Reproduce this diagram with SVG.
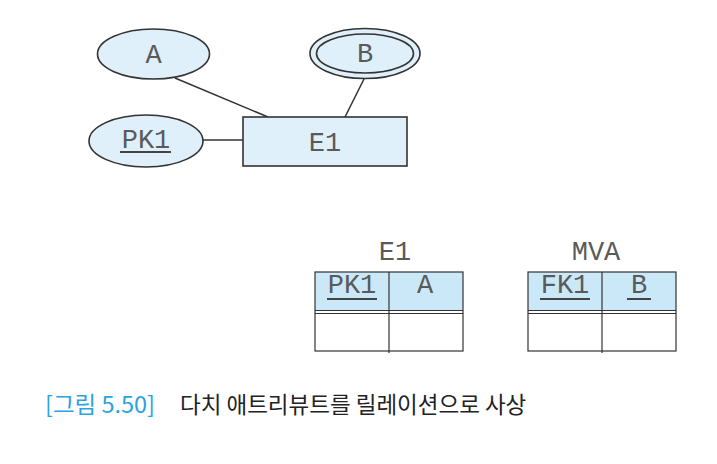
<svg xmlns="http://www.w3.org/2000/svg" width="717" height="464" viewBox="0 0 717 464">
<style>
.shape{fill:#dff0fb;stroke:#333;stroke-width:1.6}
.hdr{fill:#cbe8f8;stroke:none}
.ln{stroke:#333;stroke-width:1.5;fill:none}
.tl{stroke:#333;stroke-width:1.2;fill:none}
.t{font-family:"Liberation Mono","DejaVu Sans Mono",monospace;font-size:27px;fill:#5a5a5a;text-anchor:middle}
.ul{stroke:#444;stroke-width:2}
.cap{font-family:"Noto Sans CJK KR","Noto Sans",sans-serif;font-size:22.5px;font-weight:400}
</style>
<rect width="717" height="464" fill="#fff"/>
<g id="connectors">
<line class="ln" x1="175" y1="78" x2="268" y2="117"/>
<line class="ln" x1="364" y1="79" x2="345" y2="117"/>
<line class="ln" x1="203" y1="140" x2="243" y2="140"/>
</g>
<g id="A">
<ellipse class="shape" cx="153.5" cy="54" rx="56" ry="25"/>
<text class="t" x="153.5" y="63">A</text>
</g>
<g id="B">
<ellipse class="shape" cx="365" cy="53.5" rx="55" ry="25"/>
<ellipse class="shape" cx="365" cy="53.5" rx="48.5" ry="19.5"/>
<text class="t" x="365" y="62">B</text>
</g>
<g id="PK1">
<ellipse class="shape" cx="146" cy="141" rx="57" ry="26"/>
<text class="t" x="146" y="148">PK1</text>
<line class="ul" x1="120" y1="152" x2="171" y2="152"/>
</g>
<g id="E1">
<rect class="shape" x="243" y="117" width="164" height="49"/>
<text class="t" x="325" y="151">E1</text>
</g>
<g id="table-E1">
<text class="t" x="395" y="260">E1</text>
<rect class="hdr" x="315" y="272" width="148" height="39"/>
<rect class="tl" x="315" y="272" width="148" height="79"/>
<line class="tl" x1="315" y1="310.5" x2="463" y2="310.5"/>
<line class="tl" x1="315" y1="313.5" x2="463" y2="313.5"/>
<line class="tl" x1="389" y1="272" x2="389" y2="353"/>
<text class="t" x="352" y="293">PK1</text>
<line class="ul" x1="327" y1="299" x2="377" y2="299"/>
<text class="t" x="425" y="293">A</text>
</g>
<g id="table-MVA">
<text class="t" x="596" y="260">MVA</text>
<rect class="hdr" x="528" y="272" width="148" height="39"/>
<rect class="tl" x="528" y="272" width="148" height="79"/>
<line class="tl" x1="528" y1="310.5" x2="676" y2="310.5"/>
<line class="tl" x1="528" y1="313.5" x2="676" y2="313.5"/>
<line class="tl" x1="602" y1="272" x2="602" y2="353"/>
<text class="t" x="565" y="293">FK1</text>
<line class="ul" x1="540" y1="299" x2="590" y2="299"/>
<text class="t" x="639" y="293">B</text>
<line class="ul" x1="627" y1="299" x2="651" y2="299"/>
</g>
<g id="caption">
<text class="cap" x="45" y="413" fill="#2aa3df" textLength="110" lengthAdjust="spacingAndGlyphs">[그림 5.50]</text>
<text class="cap" x="180" y="413" fill="#222">다치 애트리뷰트를 릴레이션으로 사상</text>
</g>
</svg>
